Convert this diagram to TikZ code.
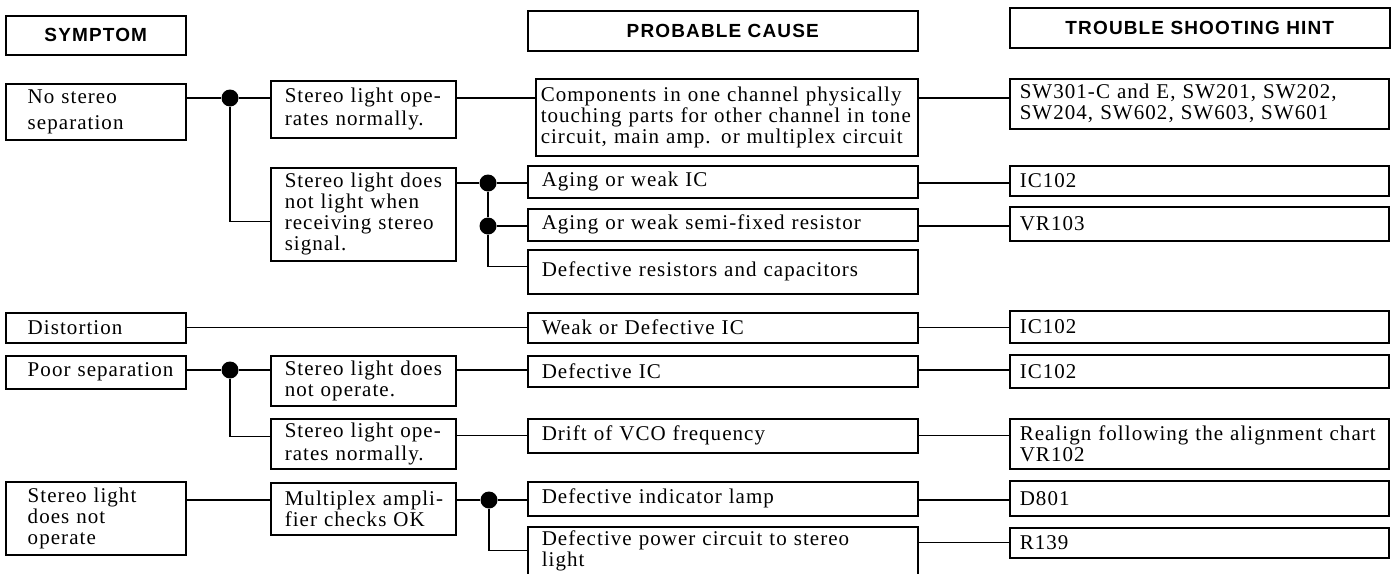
\documentclass[tikz,border=0pt]{standalone}
\usepackage{fontspec}
\setmainfont{Liberation Serif}[LetterSpace=5]
\newfontfamily\headfont{Liberation Sans}[LetterSpace=6]
\usetikzlibrary{shapes.geometric}

\tikzset{
	cell/.style={draw, line width=1.5pt, anchor=north west, align=left, inner ysep=0pt, inner xsep=3pt, font=\fontsize{21pt}{21pt}\selectfont},
	loose/.style={font=\fontsize{21pt}{23pt}\selectfont},
	headcell/.style={draw, line width=1.5pt, anchor=north west, inner sep=0pt, font=\headfont\bfseries\fontsize{19pt}{19pt}\selectfont},
	symcell/.style={cell, text width=174pt, execute at begin node={\leftskip=19pt\relax}},
	condcell/.style={cell, text width=179pt, execute at begin node={\leftskip=11pt\relax}},
	causecell/.style={cell, text width=384pt, execute at begin node={\leftskip=11pt\relax}},
	hintcell/.style={cell, text width=373pt, execute at begin node={\leftskip=7pt\relax}},
	dot/.style={circle, fill, minimum size=17pt, inner sep=0pt},
	wire/.style={line width=1.3pt}
}

\begin{document}
\begin{tikzpicture}[x=1pt, y=-1pt]
				\useasboundingbox (0,0) rectangle (1391,573);

				\node[headcell, minimum width=180pt, minimum height=39pt] (hsym) at (5,15) {SYMPTOM};
				\node[headcell, minimum width=390pt, minimum height=40pt] (hcause) at (527,10) {PROBABLE CAUSE};
				\node[headcell, minimum width=380pt, minimum height=40pt] (hhint) at (1009,7) {TROUBLE SHOOTING HINT};

				\node[symcell, minimum height=56pt, font=\fontsize{21pt}{26pt}\selectfont] (nosep) at (5,83) {No stereo\\separation};
				\node[condcell, loose, minimum height=57pt] (oknorm) at (270,80) {Stereo light ope-\\rates normally.};
				\node[causecell, text width=376pt, minimum height=77pt, execute at begin node={\leftskip=2pt\relax}] (touch) at (535,78) {Components in one channel physically\\touching parts for other channel in tone\\circuit, main amp. or multiplex circuit};
				\node[hintcell, minimum height=50pt] (swlist) at (1009,78) {SW301-C and E, SW201, SW202,\\SW204, SW602, SW603, SW601};

				\node[condcell, minimum height=93pt] (nolight) at (270,167) {Stereo light does\\not light when\\receiving stereo\\signal.};
				\node[causecell, minimum height=32pt] (agingic) at (527,165) {Aging or weak IC};
				\node[hintcell, minimum height=30pt] (ica) at (1009,165) {IC102};
				\node[causecell, minimum height=32pt] (agingvr) at (527,208) {Aging or weak semi-fixed resistor};
				\node[hintcell, minimum height=34pt] (vra) at (1009,206) {VR103};
				\node[causecell, minimum height=44pt] (rc) at (527,249) {Defective resistors and capacitors};

				\node[symcell, minimum height=30pt] (dist) at (5,312) {Distortion};
				\node[causecell, minimum height=30pt] (weakic) at (527,312) {Weak or Defective IC};
				\node[hintcell, minimum height=32pt] (icb) at (1009,310) {IC102};

				\node[symcell, minimum height=33pt] (poorsep) at (5,355) {Poor separation};
				\node[condcell, minimum height=50pt] (noop) at (270,355) {Stereo light does\\not operate.};
				\node[causecell, minimum height=31pt] (defic) at (527,355) {Defective IC};
				\node[hintcell, minimum height=33pt] (icc) at (1009,354) {IC102};
				\node[condcell, loose, minimum height=50pt] (oknormb) at (270,418) {Stereo light ope-\\rates normally.};
				\node[causecell, minimum height=34pt] (vco) at (527,418) {Drift of VCO frequency};
				\node[hintcell, minimum height=50pt] (realign) at (1009,418) {Realign following the alignment chart\\VR102};

				\node[symcell, minimum height=73pt] (nolamp) at (5,481) {Stereo light\\does not\\operate};
				\node[condcell, minimum height=52pt] (mpxok) at (270,482) {Multiplex ampli-\\fier checks OK};
				\node[causecell, minimum height=34pt] (lamp) at (527,481) {Defective indicator lamp};
				\node[hintcell, minimum height=35pt] (dled) at (1009,480) {D801};
				\node[causecell, minimum height=48pt] (power) at (527,526) {Defective power circuit to stereo\\light};
				\node[hintcell, minimum height=30pt] (rres) at (1009,527) {R139};

				\node[dot] (ja) at (230,98) {};
				\node[dot] (jb) at (488,183) {};
				\node[dot] (jc) at (488,226) {};
				\node[dot] (jd) at (230,370) {};
				\node[dot] (je) at (489,500) {};

				\draw[wire] (nosep.east|-ja) -- (ja) -- (oknorm.west|-ja);
				\draw[wire] (oknorm.east|-ja) -- (touch.west|-ja);
				\draw[wire] (touch.east|-ja) -- (swlist.west|-ja);
				\draw[wire] (ja) |- ([yshift=-7pt]nolight.west);
				\draw[wire] (nolight.east|-jb) -- (jb) -- (agingic.west|-jb);
				\draw[wire] (agingic.east|-jb) -- (ica.west|-jb);
				\draw[wire] (jb) -- (jc) -- (agingvr.west|-jc);
				\draw[wire] (agingvr.east|-jc) -- (vra.west|-jc);
				\draw[wire] (jc) |- ([yshift=5pt]rc.west);

				\draw[wire] (dist.east) -- (weakic.west);
				\draw[wire] (weakic.east) -- (icb.west|-weakic.east);

				\draw[wire] (poorsep.east|-jd) -- (jd) -- (noop.west|-jd);
				\draw[wire] (noop.east|-jd) -- (defic.west|-jd);
				\draw[wire] (defic.east|-jd) -- (icc.west|-jd);
				\draw[wire] (jd) |- ([yshift=7pt]oknormb.west);
				\draw[wire] (oknormb.east|-vco.west) -- (vco.west);
				\draw[wire] (vco.east) -- (realign.west|-vco.east);

				\draw[wire] (nolamp.east|-je) -- (mpxok.west|-je);
				\draw[wire] (mpxok.east|-je) -- (je) -- (lamp.west|-je);
				\draw[wire] (lamp.east|-je) -- (dled.west|-je);
				\draw[wire] (je) |- (power.west);
				\draw[wire] (power.east|-rres.west) -- (rres.west);
\end{tikzpicture}
\end{document}
